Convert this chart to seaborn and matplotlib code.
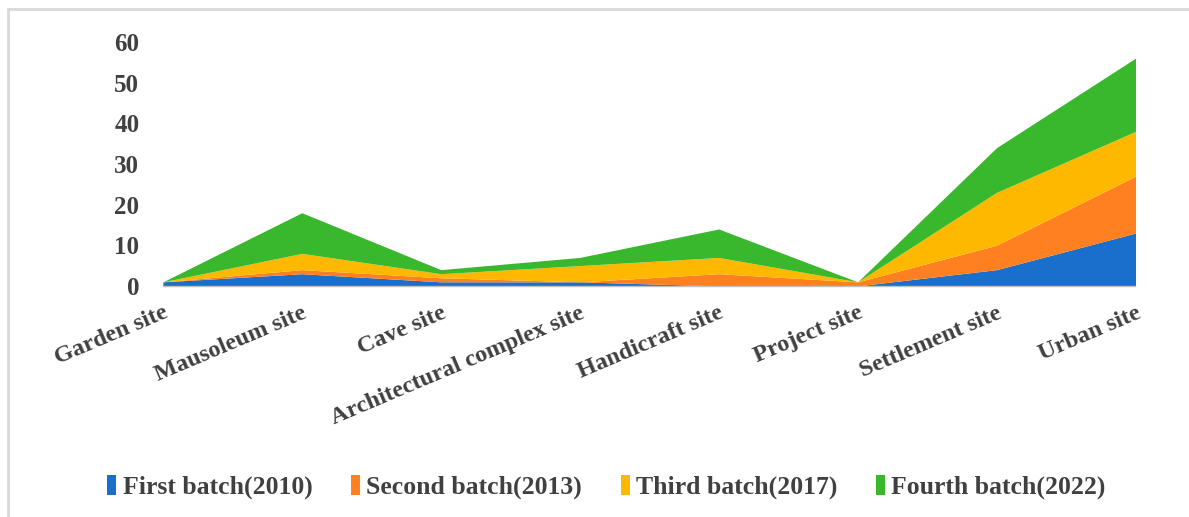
import numpy as np
import matplotlib
matplotlib.use("Agg")
import matplotlib.pyplot as plt
import seaborn as sns
from matplotlib.patches import Rectangle

# data
sites = ["Garden site", "Mausoleum site", "Cave site", "Architectural complex site",
         "Handicraft site", "Project site", "Settlement site", "Urban site"]
first_batch = [1, 3, 1, 1, 0, 0, 4, 13]
second_batch = [0, 1, 1, 0, 3, 1, 6, 14]
third_batch = [0, 4, 1, 4, 4, 0, 13, 11]
fourth_batch = [0, 10, 1, 2, 7, 0, 11, 18]
series_names = ["First batch(2010)", "Second batch(2013)", "Third batch(2017)", "Fourth batch(2022)"]
colors = ["#1A6FCC", "#FF8020", "#FFB800", "#39B82E"]

sns.set_theme(style="white")
plt.rcParams["font.family"] = ["Liberation Serif", "DejaVu Serif"]
plt.rcParams["font.weight"] = "bold"

fig = plt.figure(figsize=(11.89, 5.17), dpi=100)
ax = fig.add_axes([0.137, 0.447, 0.818, 0.472])

x = np.arange(len(sites))
ax.stackplot(x, first_batch, second_batch, third_batch, fourth_batch,
             colors=colors, labels=series_names, linewidth=0)

ax.set_xlim(0, len(sites) - 1)
ax.set_ylim(0, 60)
ax.set_yticks(range(0, 61, 10))
ax.set_xticks(x)
ax.set_xticklabels(sites, rotation=23, ha="right", rotation_mode="anchor")

txt_color = "#404040"
ax.tick_params(axis="y", length=0, labelsize=18, labelcolor=txt_color, pad=17)
ax.tick_params(axis="x", length=5, width=1, color="#bfbfbf", direction="out",
               labelsize=17.5, labelcolor=txt_color, pad=7)
for lab in ax.get_xticklabels() + ax.get_yticklabels():
    lab.set_fontweight("bold")

sns.despine(ax=ax, left=True, top=True, right=True)
ax.spines["bottom"].set_color("#bfbfbf")
ax.spines["bottom"].set_linewidth(1)

leg = fig.legend(loc="center", bbox_to_anchor=(0.51, 0.058), ncol=4, frameon=False,
                 fontsize=18.5, handlelength=0.35, handleheight=0.8, handletextpad=0.25,
                 columnspacing=1.5)
for t in leg.get_texts():
    t.set_color(txt_color)
    t.set_fontweight("bold")

# light grey border round the chart area
fig.patches.append(Rectangle((8 / 1189, -0.05), 1.1, 1 - 9 / 517 + 0.05,
                             transform=fig.transFigure, fill=False,
                             edgecolor="#d9d9d9", linewidth=2))

fig.savefig("out.png", dpi=100)
